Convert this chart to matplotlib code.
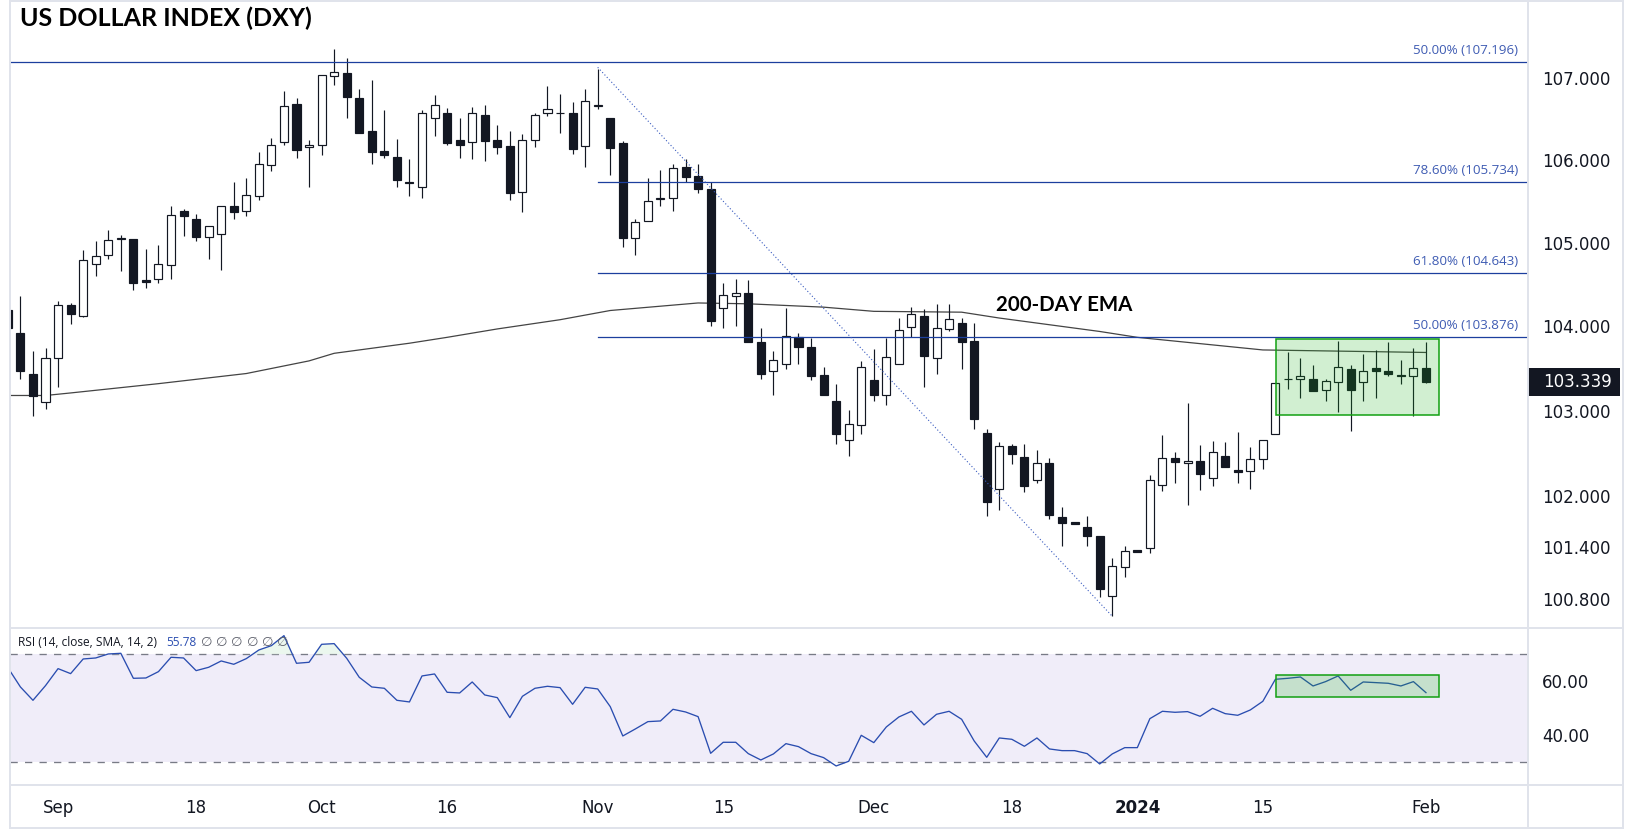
import matplotlib
matplotlib.use('Agg')
import matplotlib.pyplot as plt
from matplotlib.patches import Rectangle
from matplotlib.lines import Line2D

W, H = 1634, 833
plt.rcParams['font.family'] = ['Open Sans', 'DejaVu Sans']

# daily candles, first one is cut by the left edge of the pane
opens = [104.20,103.92,103.44,103.10,103.62,104.26,104.13,104.75,104.86,105.05,105.05,104.56,104.57,104.74,105.38,105.29,105.07,105.11,105.44,105.38,
         105.57,105.94,106.22,106.68,106.16,106.18,107.03,107.06,106.76,106.36,106.11,106.04,105.73,105.68,106.52,106.58,106.25,106.22,106.55,106.25,
         106.17,105.61,106.25,106.58,106.58,106.58,106.17,106.66,106.51,106.21,105.06,105.26,105.53,105.54,105.92,105.81,105.65,104.22,104.36,104.40,
         103.81,103.47,103.55,103.87,103.75,103.42,103.12,102.65,102.83,103.36,103.19,103.55,103.99,104.12,103.63,103.97,104.04,103.83,102.74,102.08,
         102.58,102.45,102.18,102.38,101.75,101.69,101.64,101.53,100.84,101.17,101.37,101.39,102.13,102.44,102.38,102.41,102.21,102.47,102.30,102.29,
         102.43,102.73,103.37,103.37,103.37,103.24,103.34,103.49,103.34,103.51,103.47,103.42,103.41,103.51]
highs = [104.20,104.36,103.71,103.74,104.30,104.28,104.91,105.02,105.16,105.09,105.05,104.93,104.97,105.44,105.41,105.35,105.21,105.44,105.74,105.78,
         106.10,106.27,106.85,106.76,106.25,107.04,107.36,107.25,106.87,106.98,106.61,106.26,106.01,106.61,106.79,106.64,106.52,106.65,106.67,106.43,
         106.35,106.32,106.57,106.91,106.81,106.71,106.87,107.12,106.51,106.24,105.29,105.78,105.88,105.96,106.01,105.96,105.73,104.52,104.57,104.56,
         103.98,103.71,104.22,103.92,103.86,103.52,103.32,103.01,103.59,103.73,103.86,104.10,104.23,104.21,104.27,104.27,104.10,104.04,102.78,102.63,
         102.61,102.61,102.54,102.44,101.87,101.69,101.76,101.53,101.28,101.41,101.37,102.24,102.71,102.51,103.09,102.60,102.64,102.63,102.75,102.57,
         102.66,103.33,103.69,103.63,103.54,103.37,103.83,103.54,103.67,103.72,103.82,103.60,103.74,103.81]
lows = [103.98,103.37,102.94,103.02,103.28,104.03,104.11,104.60,104.81,104.66,104.43,104.46,104.52,104.57,105.08,105.02,104.81,104.68,105.29,105.32,
        105.52,105.87,106.18,106.03,105.67,106.06,106.92,106.51,106.33,105.96,106.03,105.67,105.57,105.54,106.30,106.19,106.03,106.02,105.99,106.08,
        105.52,105.37,106.16,106.54,106.33,106.07,105.92,106.63,105.82,104.95,104.86,105.26,105.45,105.39,105.74,105.60,104.00,103.98,104.01,103.81,
        103.38,103.19,103.49,103.55,103.36,103.19,102.61,102.47,102.73,103.12,103.07,103.55,103.87,103.28,103.44,103.94,103.49,102.79,101.77,101.83,
        102.37,102.05,102.15,101.73,101.41,101.67,101.42,100.82,100.60,101.05,101.35,101.33,102.06,102.15,101.89,102.07,102.11,102.34,102.15,102.08,
        102.31,102.73,103.26,103.15,103.23,103.11,102.98,102.76,103.12,103.15,103.41,103.32,102.94,103.33]
closes = [103.98,103.47,103.17,103.63,104.26,104.15,104.79,104.84,105.04,105.06,104.52,104.53,104.75,105.34,105.32,105.07,105.21,105.44,105.37,105.58,
          105.95,106.18,106.66,106.13,106.18,107.04,107.08,106.77,106.33,106.10,106.06,105.76,105.72,106.58,106.67,106.21,106.19,106.57,106.24,106.16,
          105.60,106.25,106.55,106.62,106.57,106.14,106.72,106.67,106.15,105.06,105.25,105.50,105.54,105.90,105.80,105.65,104.07,104.38,104.40,103.81,
          103.44,103.60,103.88,103.75,103.41,103.19,102.73,102.84,103.52,103.19,103.64,103.96,104.15,103.65,103.98,104.09,103.81,102.90,101.93,102.58,
          102.49,102.11,102.39,101.78,101.68,101.67,101.53,100.92,101.18,101.36,101.35,102.18,102.44,102.40,102.41,102.26,102.51,102.34,102.28,102.43,
          102.66,103.33,103.37,103.41,103.23,103.35,103.52,103.24,103.47,103.47,103.44,103.41,103.50,103.339]

# 200 day ema, read at these bars
ema_bars = [-1,2,4,11,18,23,25,31,34,38,43,47,54,58,64,68,75,78,86,89,99,112]
ema_vals = [103.18,103.18,103.21,103.32,103.44,103.59,103.68,103.80,103.87,103.97,104.08,104.19,104.28,104.27,104.23,104.18,104.17,104.10,103.94,103.87,103.72,103.69]

rsi = [65.06,57.90,52.96,58.40,64.69,62.84,68.27,68.64,70.12,70.37,61.11,61.23,63.58,68.89,68.64,63.95,65.19,67.53,66.30,68.40,
       71.60,73.21,76.91,66.67,67.04,73.70,73.95,68.52,61.48,57.90,57.41,52.96,52.35,61.98,62.72,55.93,55.68,59.75,54.94,53.95,
       46.54,54.44,57.41,58.15,57.65,51.48,57.78,57.16,50.62,39.75,42.35,45.06,45.31,49.63,48.64,46.91,33.33,37.41,37.41,33.21,
       30.86,33.09,36.91,35.80,33.21,31.73,28.64,30.37,40.00,37.28,43.09,46.79,48.89,43.83,47.78,48.89,45.93,37.90,31.85,39.01,
       38.52,35.93,39.01,34.94,34.32,34.32,33.21,29.38,33.09,35.43,35.43,46.17,48.89,48.52,48.77,47.04,50.00,48.02,47.41,49.38,
       52.59,60.74,61.11,61.60,58.27,59.88,61.98,56.67,59.75,59.51,59.26,58.27,59.88,55.80]

fib_levels = [107.196, 105.734, 104.643, 103.876]
fib_labels = ['50.00% (107.196)', '78.60% (105.734)', '61.80% (104.643)', '50.00% (103.876)']
price_ticks = [107, 106, 105, 104, 103, 102, 101.4, 100.8]
price_labels = ['107.000', '106.000', '105.000', '104.000', '103.000', '102.000', '101.400', '100.800']
rsi_ticks = [60, 40]
rsi_labels = ['60.00', '40.00']
date_bars = [3, 14, 24, 34, 46, 56, 68, 79, 89, 99, 112]
date_labels = ['Sep', '18', 'Oct', '16', 'Nov', '15', 'Dec', '18', '2024', '15', 'Feb']
last_price = 103.339

DARK = '#131722'
BLUE = '#1c3f9e'
BORDER = '#e0e3eb'
GREEN_EDGE = '#12a012'
GREEN_FILL = (25/255, 175/255, 25/255, 0.2)

def px_rect(x0, y0, x1, y1):
    return [x0 / W, 1 - y1 / H, (x1 - x0) / W, (y1 - y0) / H]

fig = plt.figure(figsize=(W / 100, H / 100), dpi=100, facecolor='white')
ax = fig.add_axes(px_rect(10, 2, 1528, 627.7))
ax2 = fig.add_axes(px_rect(10, 627.7, 1528, 785.3))

bars = list(range(-1, len(opens) - 1))
xlim = (-0.83, 120.13)

# candles
ax.set_yscale('log')
ax.vlines(bars, lows, highs, color=DARK, lw=0.85, zorder=3)
for b, o, c in zip(bars, opens, closes):
    face = 'white' if c >= o else DARK
    ax.bar(b, abs(c - o), bottom=min(o, c), width=0.64, facecolor=face, edgecolor=DARK, linewidth=0.85, zorder=4)

ax.plot(ema_bars, ema_vals, color='#444444', lw=0.9, zorder=2)

# fib levels
ax.plot([-1, 121], [fib_levels[0], fib_levels[0]], color=BLUE, lw=0.9, zorder=5)
for lev in fib_levels[1:]:
    ax.plot([46, 121], [lev, lev], color=BLUE, lw=0.9, zorder=5)
for lev, lab in zip(fib_levels, fib_labels):
    ax.annotate(lab, (1, lev), xycoords=ax.get_yaxis_transform(), xytext=(-7.2, 3.5), textcoords='offset points',
                ha='right', va='bottom', fontsize=9.6, color='#3f5cb3')
ax.plot([46, 86.95], [107.135, 100.61], color='#3a5cc0', lw=0.8, ls=(0, (1, 2)), zorder=5)

ax.add_patch(Rectangle((100.07, 102.95), 13, 0.90, facecolor=GREEN_FILL, edgecolor=GREEN_EDGE, lw=1.1, zorder=6))

ax.text(77.7, 104.18, '200-DAY EMA', fontsize=14.8, fontweight='bold', family='Lato', color='black', va='baseline', ha='left', zorder=7)

ax.set_xlim(xlim)
ax.set_ylim(100.47, 107.94)
ax.minorticks_off()
ax.yaxis.tick_right()
ax.set_yticks(price_ticks, price_labels)
ax.tick_params(axis='y', length=0, pad=10, labelsize=12, labelcolor=DARK)
ax.tick_params(axis='x', length=0, labelbottom=False)

# last price tag
ax.add_patch(Rectangle((1.0, 103.17), 92 / 1518, 0.33, transform=ax.get_yaxis_transform(), facecolor=DARK, edgecolor='none', clip_on=False, zorder=8))
ax.text(1.0 + 15 / 1518, last_price, '103.339', transform=ax.get_yaxis_transform(), color='white', fontsize=12,
        family='DejaVu Sans', va='center', ha='left', zorder=9)

# rsi pane
ax2.axhspan(30, 70, facecolor='#f0edf9', edgecolor='none', zorder=0)
for lev in [70, 30]:
    ax2.axhline(lev, color='#787b86', lw=0.95, ls=(0, (5.5, 5.5)), zorder=1)
ax2.fill_between(bars, 70, rsi, where=[v > 70 for v in rsi], interpolate=True, color='#dff2e3', alpha=0.6, lw=0, zorder=1)
ax2.plot(bars, rsi, color='#2a4db0', lw=0.95, zorder=3)
ax2.add_patch(Rectangle((100.07, 54.07), 13, 8.13, facecolor=GREEN_FILL, edgecolor=GREEN_EDGE, lw=1.1, zorder=4))
ax2.set_xlim(xlim)
ax2.set_ylim(21.48, 79.85)
ax2.yaxis.tick_right()
ax2.set_yticks(rsi_ticks, rsi_labels)
ax2.set_xticks(date_bars, date_labels)
ax2.tick_params(axis='y', length=0, pad=10, labelsize=12, labelcolor=DARK)
ax2.tick_params(axis='x', length=0, pad=10, labelsize=12, labelcolor=DARK)
ax2.get_xticklabels()[8].set_fontweight('bold')

# tick labels in a wider face
for lab in ax.get_yticklabels() + ax2.get_yticklabels() + ax2.get_xticklabels():
    lab.set_family('DejaVu Sans')
    lab.set_y(lab.get_position()[1])

for a in (ax, ax2):
    for s in a.spines.values():
        s.set_visible(False)

# frame and pane separators go over the full width
def px_line(x0, y0, x1, y1):
    fig.add_artist(Line2D([x0 / W, x1 / W], [1 - y0 / H, 1 - y1 / H], color=BORDER, lw=1.4))

px_line(10, 1, 1623, 1)
px_line(10, 828, 1623, 828)
px_line(10, 1, 10, 828)
px_line(1623, 1, 1623, 828)
px_line(1528, 1, 1528, 828)
px_line(10, 627.7, 1623, 627.7)
px_line(10, 785.3, 1623, 785.3)

fig.text(20 / W, 1 - 26 / H, 'US DOLLAR INDEX (DXY)', fontsize=18, fontweight='bold', family='Lato', color='black', va='baseline', ha='left')

# rsi legend row
fig.text(18.3 / W, 1 - 643 / H, 'RSI (14, close, SMA, 14, 2)', fontsize=8.6, color=DARK, va='center', ha='left')
fig.text(166.7 / W, 1 - 643 / H, '55.78', fontsize=8.6, color='#2a4db0', va='center', ha='left')
for xp in [206.7, 221.7, 236.7, 252.7, 268, 283]:
    fig.text(xp / W, 1 - 643 / H, '\u2205', fontsize=9.5, color='#5d606b', va='center', ha='center')

fig.savefig('out.png', dpi=100)
